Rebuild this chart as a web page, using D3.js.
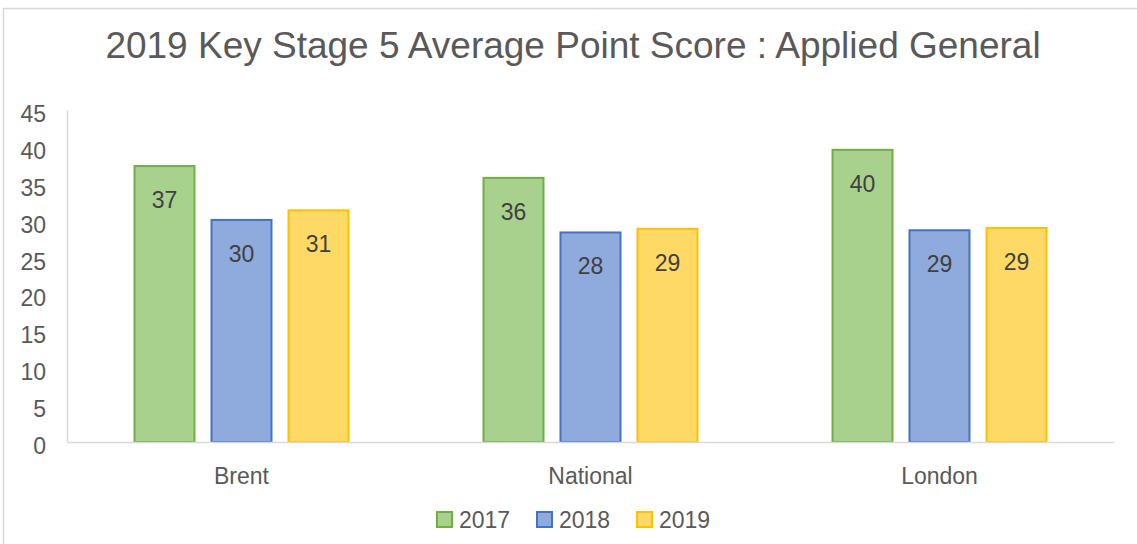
<!DOCTYPE html>
<html>
<head>
<meta charset="utf-8">
<script src="https://cdn.jsdelivr.net/npm/d3@7"></script>
<style>
  body { margin: 0; background: #fff; }
  text { font-family: "Liberation Sans", Arial, sans-serif; }
</style>
</head>
<body>
<div id="chart"></div>
<script>
// chart data
const categories = ["Brent", "National", "London"];
const years = ["2017", "2018", "2019"];
const values2017 = [37.4, 35.8, 39.6];
const values2018 = [30.1, 28.4, 28.7];
const values2019 = [31.4, 28.9, 29.0];
const yTicks = [0, 5, 10, 15, 20, 25, 30, 35, 40, 45];

const series = [values2017, values2018, values2019];
const fills = ["#A9D18E", "#8FAADC", "#FFD966"];
const strokes = ["#70AD47", "#4472C4", "#FFC000"];

const width = 1137, height = 544;
const margin = { top: 110, right: 23, bottom: 102, left: 67 };
const fontSize = "23px";

const svg = d3.select("#chart").append("svg")
  .attr("width", width)
  .attr("height", height);

// chart border
svg.append("rect")
  .attr("x", 3.5).attr("y", 8.5)
  .attr("width", width + 10).attr("height", height + 10)
  .attr("fill", "none")
  .attr("stroke", "#d9d9d9")
  .attr("stroke-width", 1.5);

svg.append("text")
  .attr("x", 573).attr("y", 58)
  .attr("text-anchor", "middle")
  .attr("font-size", "37px")
  .attr("fill", "#595959")
  .text("2019 Key Stage 5 Average Point Score : Applied General");

const x0 = d3.scaleBand()
  .domain(categories)
  .range([margin.left, width - margin.right])
  .padding(0);

const x1 = d3.scaleBand()
  .domain(years)
  .range([0, x0.bandwidth()])
  .paddingInner(0.195)
  .paddingOuter(0.864);

const y = d3.scaleLinear()
  .domain([0, 45])
  .range([height - margin.bottom, margin.top]);

// y axis
const yAxis = svg.append("g")
  .attr("transform", `translate(${margin.left},0)`)
  .call(d3.axisLeft(y).tickValues(yTicks).tickSize(0).tickPadding(21));
yAxis.select(".domain").attr("stroke", "#d9d9d9").attr("stroke-width", 1.5);
yAxis.selectAll("text").attr("font-size", fontSize).attr("fill", "#595959")
  .attr("dy", "0.5em")
  .attr("font-family", "Liberation Sans, Arial, sans-serif");

// bars
const groups = svg.append("g")
  .selectAll("g")
  .data(categories)
  .join("g")
  .attr("transform", d => `translate(${x0(d)},0)`);

groups.selectAll("rect")
  .data((c, ci) => years.map((yr, si) => ({ yr, si, v: series[si][ci] })))
  .join("rect")
  .attr("x", d => x1(d.yr) + 1)
  .attr("width", x1.bandwidth() - 2)
  .attr("y", d => y(d.v))
  .attr("height", d => y(0) - y(d.v))
  .attr("fill", d => fills[d.si])
  .attr("stroke", d => strokes[d.si])
  .attr("stroke-width", 2);

groups.selectAll("text.lbl")
  .data((c, ci) => years.map((yr, si) => ({ yr, si, v: series[si][ci] })))
  .join("text")
  .attr("class", "lbl")
  .attr("x", d => x1(d.yr) + x1.bandwidth() / 2)
  .attr("y", d => y(d.v) + 42)
  .attr("text-anchor", "middle")
  .attr("font-size", fontSize)
  .attr("fill", "#404040")
  .text(d => Math.round(d.v));

// x axis baseline
const xAxis = svg.append("g")
  .attr("transform", `translate(0,${y(0)})`)
  .call(d3.axisBottom(x0).tickSize(0).tickPadding(26));
xAxis.select(".domain").attr("stroke", "#d9d9d9").attr("stroke-width", 1.5);
xAxis.selectAll("text").attr("font-size", fontSize).attr("fill", "#595959")
  .attr("font-family", "Liberation Sans, Arial, sans-serif");

// legend
const legend = svg.append("g")
  .selectAll("g")
  .data(years)
  .join("g")
  .attr("transform", (d, i) => `translate(${437 + i * 100},512)`);

legend.append("rect")
  .attr("width", 15).attr("height", 15)
  .attr("fill", (d, i) => fills[i])
  .attr("stroke", (d, i) => strokes[i])
  .attr("stroke-width", 2);

legend.append("text")
  .attr("x", 22).attr("y", 16)
  .attr("font-size", fontSize)
  .attr("fill", "#595959")
  .text(d => d);
</script>
</body>
</html>
